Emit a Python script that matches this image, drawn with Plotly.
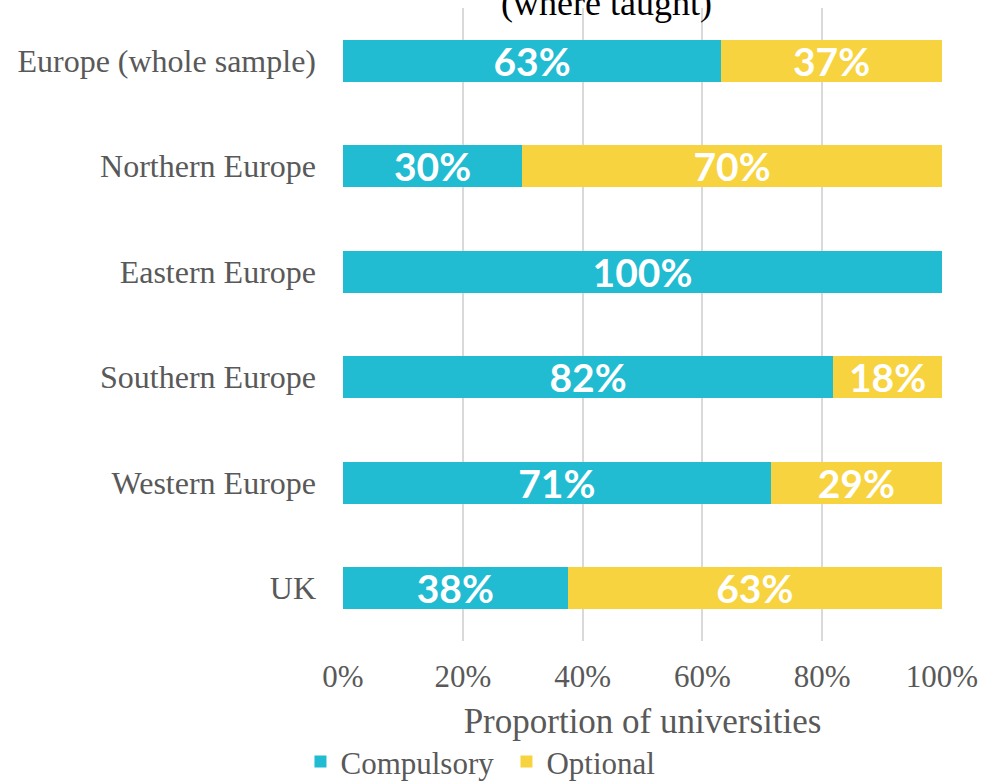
import plotly.graph_objects as go

# Regions, listed bottom to top so the first one sits at the top of the chart
regions = ["UK", "Western Europe", "Southern Europe", "Eastern Europe",
           "Northern Europe", "Europe (whole sample)"]
compulsory = [37.5, 71.4, 81.8, 100.0, 29.9, 63.1]
optional = [62.5, 28.6, 18.2, 0.0, 70.1, 36.9]
tick_vals = [0, 20, 40, 60, 80, 100]
tick_text = ["0%", "20%", "40%", "60%", "80%", "100%"]

TEAL = "#21BCD2"
YELLOW = "#F7D43F"
GREY = "#595959"
SERIF = "Liberation Serif, Times New Roman, serif"


def labels(vals):
    # whole-percent labels, halves rounded up
    return [f"{int(v + 0.5)}%" if v > 0 else "" for v in vals]


label_font = dict(family="Lato", size=39, color="white", weight="bold")

fig = go.Figure()
fig.add_trace(go.Bar(
    y=regions, x=compulsory, name="Compulsory", orientation="h",
    marker=dict(color=TEAL, line=dict(width=0)),
    text=labels(compulsory), textposition="inside", insidetextanchor="middle",
    constraintext="none", textfont=label_font, width=0.4,
))
fig.add_trace(go.Bar(
    y=regions, x=optional, name="Optional", orientation="h",
    marker=dict(color=YELLOW, line=dict(width=0)),
    text=labels(optional), textposition="inside", insidetextanchor="middle",
    constraintext="none", textfont=label_font, width=0.4,
))

fig.update_layout(
    barmode="stack",
    width=982, height=782,
    margin=dict(l=343, r=40, t=8, b=141, autoexpand=False),
    paper_bgcolor="white", plot_bgcolor="white",
    xaxis=dict(
        range=[0, 100], tickvals=tick_vals, ticktext=tick_text,
        showgrid=True, gridcolor="#D9D9D9", gridwidth=2,
        zeroline=False, showline=False, ticks="",
        tickfont=dict(family=SERIF, size=31, color=GREY),
        ticklabelstandoff=14, automargin=False,
        title=dict(text="Proportion of universities",
                   font=dict(family=SERIF, size=35, color=GREY), standoff=15),
    ),
    yaxis=dict(
        showgrid=False, zeroline=False, showline=False, ticks="",
        tickfont=dict(family=SERIF, size=32, color=GREY),
        ticklabelstandoff=26, automargin=False,
    ),
    legend=dict(
        orientation="h", x=-0.071, xanchor="left", y=-0.191, yanchor="middle",
        font=dict(family=SERIF, size=31, color=GREY),
        itemwidth=30, entrywidth=161, entrywidthmode="pixels",
        traceorder="normal",
    ),
    annotations=[dict(
        text="(where taught)", xref="paper", yref="paper", x=0.44, y=1,
        xanchor="center", yanchor="bottom", yshift=-17, showarrow=False,
        font=dict(family=SERIF, size=36, color="black"),
    )],
)

fig.write_html("out.html")
